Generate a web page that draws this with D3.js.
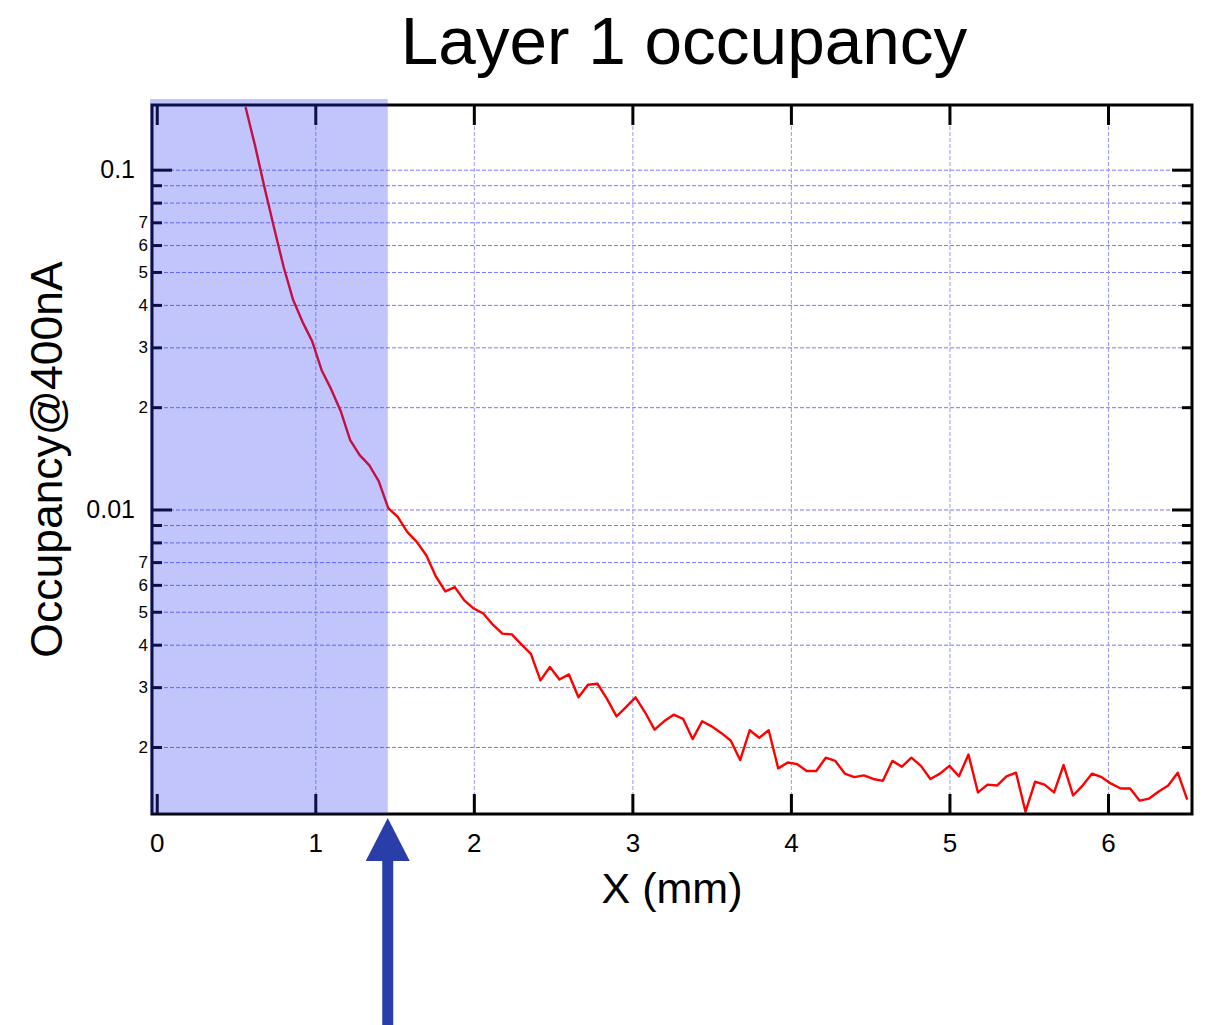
<!DOCTYPE html>
<html>
<head>
<meta charset="utf-8">
<script src="https://cdn.jsdelivr.net/npm/d3@7"></script>
<style>
  body { margin: 0; background: #fff; }
  svg text { font-family: "Liberation Sans", Arial, Helvetica, sans-serif; fill: #000; }
</style>
</head>
<body>
<div id="chart"></div>
<script>
/*********************************
      LAYER 1 OCCUPANCY (LOG)
 *********************************/

// Bin positions (mm)
const xValues = [
  0.56, 0.62, 0.68, 0.74, 0.80, 0.86, 0.92, 0.98, 1.04, 1.10,
  1.16, 1.22, 1.28, 1.34, 1.40, 1.46, 1.52, 1.58, 1.64, 1.70,
  1.76, 1.82, 1.88, 1.94, 2.00, 2.06, 2.12, 2.18, 2.24, 2.30,
  2.36, 2.42, 2.48, 2.54, 2.60, 2.66, 2.72, 2.78, 2.84, 2.90,
  2.96, 3.02, 3.08, 3.14, 3.20, 3.26, 3.32, 3.38, 3.44, 3.50,
  3.56, 3.62, 3.68, 3.74, 3.80, 3.86, 3.92, 3.98, 4.04, 4.10,
  4.16, 4.22, 4.28, 4.34, 4.40, 4.46, 4.52, 4.58, 4.64, 4.70,
  4.76, 4.82, 4.88, 4.94, 5.00, 5.06, 5.12, 5.18, 5.24, 5.30,
  5.36, 5.42, 5.48, 5.54, 5.60, 5.66, 5.72, 5.78, 5.84, 5.90,
  5.96, 6.02, 6.08, 6.14, 6.20, 6.26, 6.32, 6.38, 6.44, 6.50
];

// Occupancy @ 400nA per bin
const occupancy = [
  0.153, 0.1177, 0.0885, 0.0675, 0.0518, 0.0414, 0.0356, 0.0313, 0.0257, 0.0226,
  0.0195, 0.0160, 0.01445, 0.0135, 0.01212, 0.01009, 0.00951, 0.00859, 0.00803, 0.00733,
  0.00636, 0.00574, 0.00591, 0.00540, 0.00511, 0.00494, 0.00458, 0.00431, 0.00429, 0.00401,
  0.00376, 0.00314, 0.00344, 0.00316, 0.00327, 0.00280, 0.00305, 0.00307, 0.00277, 0.00246,
  0.00262, 0.00280, 0.00253, 0.00225, 0.00238, 0.00249, 0.00242, 0.00211, 0.00238, 0.00230,
  0.00220, 0.00209, 0.00183, 0.00224, 0.00213, 0.00224, 0.00173, 0.00180, 0.00178, 0.00170,
  0.00170, 0.00186, 0.00182, 0.00167, 0.00163, 0.00165, 0.00161, 0.00159, 0.00182, 0.00175,
  0.00186, 0.00176, 0.00161, 0.00167, 0.00176, 0.00164, 0.00190, 0.00147, 0.00155, 0.00154,
  0.00164, 0.00168, 0.00129, 0.00158, 0.00155, 0.00147, 0.00177, 0.00144, 0.00154, 0.00167,
  0.00163, 0.00156, 0.00151, 0.00151, 0.00139, 0.00141, 0.00148, 0.00154, 0.00168, 0.00140
];

// Axis ticks
const xTicks = [0, 1, 2, 3, 4, 5, 6];
const xGridTicks = [1, 2, 3, 4, 5, 6];
const yMajorTicks = [0.1, 0.01];
const yMajorLabels = ["0.1", "0.01"];
const yMinorTicks = [0.09, 0.08, 0.07, 0.06, 0.05, 0.04, 0.03, 0.02,
                     0.009, 0.008, 0.007, 0.006, 0.005, 0.004, 0.003, 0.002];
const yMinorLabels = ["", "", "7", "6", "5", "4", "3", "2",
                      "", "", "7", "6", "5", "4", "3", "2"];

// Highlighted region (mm) and text
const cutX = 1.457;
const titleText = "Layer 1 occupancy";
const xLabelText = "X (mm)";
const yLabelText = "Occupancy@400nA";

function drawChart() {
  let w = 1206, h = 1025;
  let left = 152, right = 1192, top = 105, bottom = 814;

  let svg = d3.select("#chart").append("svg").attr("width", w).attr("height", h);

  let xScale = d3.scaleLinear().domain([-0.03, 6.53]).range([left, right]);
  let yScale = d3.scaleLog().domain([0.00127, 0.155]).range([bottom, top]);

  // Grid
  let allY = yMajorTicks.concat(yMinorTicks);
  let gridY = svg.append("g").attr("transform", "translate(" + left + ",0)")
    .call(d3.axisLeft(yScale).tickValues(allY).tickSize(-(right - left)).tickFormat(""));
  let gridX = svg.append("g").attr("transform", "translate(0," + bottom + ")")
    .call(d3.axisBottom(xScale).tickValues(xGridTicks).tickSize(-(bottom - top)).tickFormat(""));
  [gridY, gridX].forEach(g => {
    g.select(".domain").remove();
    g.selectAll("line").attr("stroke", "#7676ff").attr("stroke-width", 1).attr("stroke-dasharray", "4,2");
  });
  gridX.selectAll("line").attr("stroke", "#9a9aff");

  // Data line
  svg.append("clipPath").attr("id", "clip").append("rect")
    .attr("x", left).attr("y", top).attr("width", right - left).attr("height", bottom - top);
  let line = d3.line().x((d, i) => xScale(xValues[i])).y(d => yScale(d));
  svg.append("path").datum(occupancy).attr("clip-path", "url(#clip)")
    .attr("d", line).attr("fill", "none").attr("stroke", "#ff0000").attr("stroke-width", 2.4)
    .attr("stroke-linejoin", "round");

  // Frame ticks (inward)
  function styleTicks(g) {
    g.select(".domain").remove();
    g.selectAll("line").attr("stroke", "#000").attr("stroke-width", 3);
    g.selectAll("text").attr("fill", "#000");
  }
  let yMajL = svg.append("g").attr("transform", "translate(" + left + ",0)")
    .call(d3.axisLeft(yScale).tickValues(yMajorTicks).tickSize(-20).tickPadding(17)
      .tickFormat((d, i) => yMajorLabels[i]));
  yMajL.selectAll("text").style("font-size", "25px");
  styleTicks(yMajL);
  let yMinL = svg.append("g").attr("transform", "translate(" + left + ",0)")
    .call(d3.axisLeft(yScale).tickValues(yMinorTicks).tickSize(-10).tickPadding(4)
      .tickFormat((d, i) => yMinorLabels[i]));
  yMinL.selectAll("text").style("font-size", "17px");
  styleTicks(yMinL);
  let yMajR = svg.append("g").attr("transform", "translate(" + right + ",0)")
    .call(d3.axisRight(yScale).tickValues(yMajorTicks).tickSize(-20).tickFormat(""));
  styleTicks(yMajR);
  let yMinR = svg.append("g").attr("transform", "translate(" + right + ",0)")
    .call(d3.axisRight(yScale).tickValues(yMinorTicks).tickSize(-10).tickFormat(""));
  styleTicks(yMinR);
  let xB = svg.append("g").attr("transform", "translate(0," + bottom + ")")
    .call(d3.axisBottom(xScale).tickValues(xTicks).tickSize(-20).tickPadding(20).tickFormat(d3.format("d")));
  xB.selectAll("text").style("font-size", "26px");
  styleTicks(xB);
  let xT = svg.append("g").attr("transform", "translate(0," + top + ")")
    .call(d3.axisTop(xScale).tickValues(xTicks).tickSize(-20).tickFormat(""));
  styleTicks(xT);

  // Frame
  svg.append("rect").attr("x", left).attr("y", top).attr("width", right - left).attr("height", bottom - top)
    .attr("fill", "none").attr("stroke", "#000").attr("stroke-width", 3);

  // Shaded region
  svg.append("rect").attr("x", left - 2).attr("y", top - 6)
    .attr("width", xScale(cutX) - left + 2).attr("height", bottom - top + 6)
    .attr("fill", "rgb(40,55,240)").attr("fill-opacity", 0.29);

  // Arrow
  let ax = xScale(cutX);
  svg.append("rect").attr("x", ax - 5.5).attr("y", bottom + 44).attr("width", 11).attr("height", h - bottom - 44)
    .attr("fill", "#2a3ea9");
  svg.append("path").attr("d", d3.line()([[ax, bottom + 4], [ax + 22, bottom + 47], [ax - 22, bottom + 47]]) + "Z")
    .attr("fill", "#2a3ea9");

  // Labels
  svg.append("text").text(titleText).attr("x", 684).attr("y", 64)
    .attr("text-anchor", "middle").style("font-size", "67.5px");
  svg.append("text").text(xLabelText).attr("x", (left + right) / 2).attr("y", 903)
    .attr("text-anchor", "middle").style("font-size", "43px");
  svg.append("text").text(yLabelText)
    .attr("transform", "translate(62," + (top + bottom) / 2 + ") rotate(-90)")
    .attr("text-anchor", "middle").style("font-size", "44.5px");
}

drawChart();
</script>
</body>
</html>
